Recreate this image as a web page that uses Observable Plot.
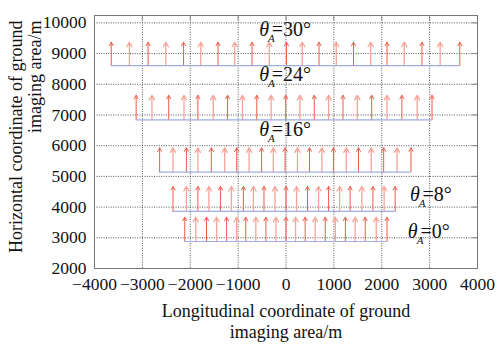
<!DOCTYPE html>
<html>
<head>
<meta charset="utf-8">
<script src="https://cdn.jsdelivr.net/npm/d3@7"></script>
<script src="https://cdn.jsdelivr.net/npm/@observablehq/plot@0.6"></script>
<style>
  body { margin: 0; background: white; }
</style>
</head>
<body>
<div id="chart"></div>
<script>
// ---- data ----
const rowAngles = [30, 24, 16, 8, 0];
const rowBase = [8610, 6840, 5140, 3860, 2880];
const rowTip  = [9370, 7640, 5930, 4670, 3670];
const xs30 = [-3650, -3270, -2880, -2510, -2140, -1780, -1420, -1070, -710, -350, 10, 340, 690, 1050, 1410, 1770, 2110, 2470, 2840, 3220, 3630];
const xs24 = [-3130, -2800, -2450, -2130, -1840, -1520, -1220, -910, -610, -310, -5, 290, 590, 890, 1190, 1490, 1790, 2110, 2420, 2740, 3050];
const xs16 = [-2640, -2360, -2080, -1840, -1560, -1280, -1030, -770, -510, -265, -20, 240, 490, 750, 990, 1260, 1515, 1780, 2040, 2320, 2610];
const xs8  = [-2360, -2080, -1840, -1610, -1370, -1140, -890, -680, -460, -230, 0, 220, 450, 680, 890, 1120, 1340, 1585, 1815, 2050, 2280];
const xs0  = [-2115, -1885, -1660, -1450, -1240, -1030, -840, -630, -420, -210, 0, 200, 400, 610, 820, 1030, 1240, 1445, 1655, 1885, 2110];
const rowXs = [xs30, xs24, xs16, xs8, xs0];
const labelX = [-560, -560, -560, 2590, 2545];
const labelY = [9785, 8320, 6530, 4410, 3205];
const xTicks = [-4000, -3000, -2000, -1000, 0, 1000, 2000, 3000, 4000];
const yTicks = [2000, 3000, 4000, 5000, 6000, 7000, 8000, 9000, 10000];
const xTitle = "Longitudinal coordinate of ground\nimaging area/m";
const yTitle1 = "Horizontal coordinate of ground";
const yTitle2 = "imaging area/m";

// ---- tables ----
const arrows = rowXs.flatMap((xs, r) => xs.map((x, i) => ({x, y1: rowBase[r], y2: rowTip[r], k: i % 2})));
const bases = rowXs.map((xs, r) => ({x1: xs[0], x2: xs[xs.length - 1], y: rowBase[r]}));
const labels = rowAngles.map((a, i) => ({x: labelX[i], y: labelY[i], text: `θA=${a}°`}));

const FONT = "Liberation Serif, Times New Roman, serif";
const RED = "#ef5a48", PINK = "#f6a497", BLUE = "#9eaee0";
const fmt = d => d < 0 ? "\u2212" + Math.abs(d) : String(d);

const chart = Plot.plot({
  width: 501,
  height: 344,
  marginLeft: 94,
  marginRight: 24,
  marginTop: 15,
  marginBottom: 76,
  style: {fontFamily: FONT, fontSize: "18px", background: "white", color: "#111"},
  x: {domain: [-4000, 4000], label: null},
  y: {domain: [2000, 10240], label: null},
  marks: [
    Plot.gridX({ticks: xTicks, stroke: "#444", strokeOpacity: 0.9, strokeDasharray: "1,1.4"}),
    Plot.gridY({ticks: yTicks, stroke: "#444", strokeOpacity: 0.9, strokeDasharray: "1,1.4"}),
    Plot.ruleX(xTicks, {x: d => d, stroke: "#888", insetBottom: 248}),
    Plot.ruleY(yTicks, {y: d => d, stroke: "#888", insetLeft: 378}),
    Plot.frame({stroke: "#777"}),
    Plot.axisX({ticks: xTicks, tickSize: 0, tickPadding: 9, tickFormat: fmt, label: null}),
    Plot.axisY({ticks: yTicks, tickSize: 0, tickPadding: 8, tickFormat: fmt, label: null}),
    Plot.arrow(arrows.filter(d => d.k === 1), {x: "x", y1: "y1", y2: "y2", stroke: PINK, strokeWidth: 1.3, headLength: 6, headAngle: 60}),
    Plot.arrow(arrows.filter(d => d.k === 0), {x: "x", y1: "y1", y2: "y2", stroke: RED, strokeWidth: 1, headLength: 6, headAngle: 60}),
    Plot.ruleY(bases, {x1: "x1", x2: "x2", y: "y", stroke: BLUE, strokeWidth: 1.2}),
    Plot.text(labels, {x: "x", y: "y", text: "text", textAnchor: "start", lineAnchor: "middle", fill: "#111"}),
    Plot.text([xTitle], {text: d => d, frameAnchor: "bottom", dy: 52, lineAnchor: "middle", lineHeight: 1.17, fill: "#111"}),
    Plot.text([yTitle1], {text: d => d, frameAnchor: "top-left", dx: -78, dy: 5, rotate: -90, textAnchor: "end", lineAnchor: "middle", fill: "#111"}),
    Plot.text([yTitle2], {text: d => d, frameAnchor: "top-left", dx: -59, dy: 5, rotate: -90, textAnchor: "end", lineAnchor: "middle", fill: "#111"})
  ]
});

// force serif font and sizes on every text element
d3.select(chart).selectAll("g").attr("font-family", null).attr("font-size", null).attr("font-variant", null);
d3.select(chart).selectAll("text").style("font-family", FONT).style("font-size", "18px");
d3.select(chart).selectAll("g[aria-label$='tick label'] text").style("font-size", "17.5px");

// theta_A subscript formatting
d3.select(chart).selectAll("text").each(function() {
  const t = this.textContent;
  if (t.startsWith("θA=")) {
    const el = d3.select(this);
    el.style("font-size", "20px");
    el.text(null);
    el.append("tspan").attr("font-style", "italic").text("θ");
    el.append("tspan").attr("font-style", "italic").style("font-size", "11px").attr("dy", 6).attr("dx", -1).text("A");
    el.append("tspan").attr("dy", -6).attr("dx", -3).text(t.slice(2));
  }
});

document.getElementById("chart").appendChild(chart);
</script>
</body>
</html>
